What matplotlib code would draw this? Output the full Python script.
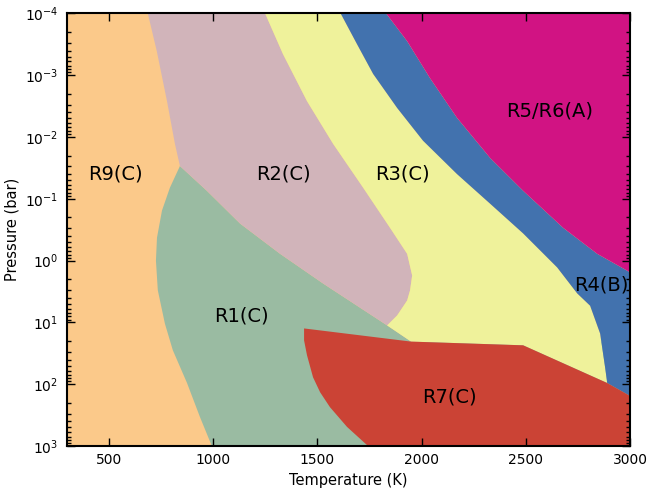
import matplotlib
matplotlib.use('Agg')
import matplotlib.pyplot as plt
from matplotlib.ticker import LogLocator, NullFormatter

plt.rcParams['axes.unicode_minus'] = False

# boundaries: temperature (K), log10 pressure (bar)
r9_r2_T = [688, 731, 780, 818, 842]
r9_r2_logP = [-4.0, -3.39, -2.58, -1.89, -1.53]

r9_r1_T = [842, 794, 756, 732, 727, 736, 770, 808, 876, 938, 995]
r9_r1_logP = [-1.53, -1.18, -0.81, -0.37, 0.0, 0.48, 1.02, 1.45, 1.98, 2.53, 3.0]

r1_top_T = [842, 971, 1130, 1322, 1528, 1691, 1835, 1950]
r1_top_logP = [-1.53, -1.13, -0.60, -0.11, 0.37, 0.73, 1.048, 1.31]

r2_r3_T = [1250, 1336, 1451, 1576, 1720, 1849, 1931, 1955, 1945, 1931, 1883, 1835]
r2_r3_logP = [-4.0, -3.34, -2.58, -1.89, -1.18, -0.53, -0.11, 0.24, 0.48, 0.645, 0.887, 1.048]

r3_r4_T = [1612, 1691, 1768, 1883, 2007, 2170, 2329, 2487, 2650, 2746, 2808, 2856, 2880, 2890]
r3_r4_logP = [-4.0, -3.5, -3.02, -2.47, -1.94, -1.40, -0.92, -0.44, 0.11, 0.53, 0.73, 1.18, 1.73, 1.98]

r4_r5_T = [1830, 1931, 2041, 2170, 2329, 2487, 2679, 2842, 3000]
r4_r5_logP = [-4.0, -3.55, -2.95, -2.31, -1.66, -1.13, -0.53, -0.11, 0.19]

r7_top_T = [1437, 1950, 2487, 2890, 3000]
r7_top_logP = [1.097, 1.31, 1.37, 1.98, 2.19]

r7_left_T = [1437, 1437, 1451, 1480, 1514, 1561, 1643, 1744]
r7_left_logP = [1.097, 1.29, 1.53, 1.887, 2.13, 2.37, 2.69, 3.0]

labels = ['R9(C)', 'R2(C)', 'R3(C)', 'R5/R6(A)', 'R4(B)', 'R1(C)', 'R7(C)']
label_T = [535, 1336, 1907, 2612, 2861, 1135, 2132]
label_logP = [-1.40, -1.40, -1.40, -2.42, 0.39, 0.90, 2.21]

c_r9 = '#fbc98a'
c_r1 = '#9abba2'
c_r2 = '#d1b4ba'
c_r3 = '#eff29b'
c_r4 = '#4272ae'
c_r5 = '#d11383'
c_r7 = '#cb4335'

Tmin, Tmax = 300, 3000
Ptop, Pbot = 1e-4, 1e3


def P(lp):
    return [10 ** v for v in lp]


fig = plt.figure(figsize=(6.49, 4.94), dpi=100)
ax = fig.add_axes([0.103, 0.097, 0.868, 0.876])
ax.set_yscale('log')
ax.set_facecolor(c_r9)

# R1 (green)
xs = r9_r1_T + [Tmax, Tmax] + r1_top_T[::-1]
ys = P(r9_r1_logP) + [Pbot, 10 ** r1_top_logP[-1]] + P(r1_top_logP[::-1])
ax.fill(xs, ys, color=c_r1, lw=0)

# R2 (pink)
xs = r9_r2_T + r1_top_T[1:7] + r2_r3_T[::-1]
ys = P(r9_r2_logP) + P(r1_top_logP[1:7]) + P(r2_r3_logP[::-1])
ax.fill(xs, ys, color=c_r2, lw=0)

# R3 (yellow)
xs = r2_r3_T + [r1_top_T[-1]] + r7_top_T[2:4] + r3_r4_T[::-1]
ys = P(r2_r3_logP) + [10 ** r1_top_logP[-1]] + P(r7_top_logP[2:4]) + P(r3_r4_logP[::-1])
ax.fill(xs, ys, color=c_r3, lw=0)

# R4 (blue)
xs = r3_r4_T + [Tmax] + r4_r5_T[::-1]
ys = P(r3_r4_logP) + [10 ** r7_top_logP[-1]] + P(r4_r5_logP[::-1])
ax.fill(xs, ys, color=c_r4, lw=0)

# R5/R6 (magenta)
xs = r4_r5_T + [Tmax]
ys = P(r4_r5_logP) + [Ptop]
ax.fill(xs, ys, color=c_r5, lw=0)

# R7 (red)
xs = r7_top_T + [Tmax] + r7_left_T[::-1]
ys = P(r7_top_logP) + [Pbot] + P(r7_left_logP[::-1])
ax.fill(xs, ys, color=c_r7, lw=0)

for s, t, lp in zip(labels, label_T, label_logP):
    ax.text(t, 10 ** lp, s, ha='center', va='center', fontsize=14)

ax.set_xlim(Tmin, Tmax)
ax.set_ylim(Pbot, Ptop)
ax.set_xticks([500, 1000, 1500, 2000, 2500, 3000])
ax.yaxis.set_major_locator(LogLocator(base=10, numticks=20))
ax.yaxis.set_minor_locator(LogLocator(base=10, subs=range(2, 10), numticks=20))
ax.yaxis.set_minor_formatter(NullFormatter())
ax.tick_params(which='both', direction='in', top=True, right=True, labelsize=10)
ax.tick_params(which='major', length=5.5, width=1)
ax.tick_params(which='minor', length=3, width=1)
ax.tick_params(axis='y', pad=6)
ax.tick_params(axis='x', pad=5)
for sp in ax.spines.values():
    sp.set_linewidth(1.5)
ax.set_xlabel('Temperature (K)', fontsize=10.5)
ax.set_ylabel('Pressure (bar)', fontsize=10.5)

fig.savefig('out.png', dpi=100)
